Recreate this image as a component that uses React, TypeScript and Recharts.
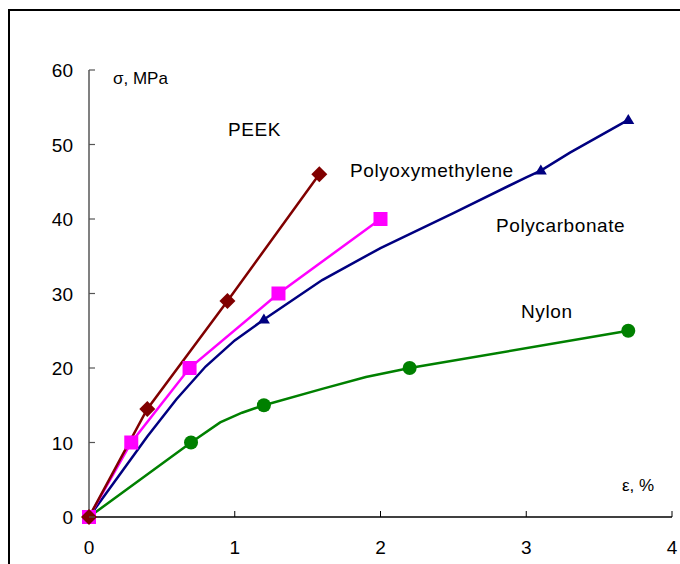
import React from "react";
import { LineChart, Line, XAxis, YAxis } from "recharts";

const FONT = "'Liberation Sans', Arial, sans-serif";

const PEEK_C = "#800000";
const POM_C = "#ff00ff";
const PC_C = "#000080";
const NYLON_C = "#008000";

// strain ε (%) against stress σ (MPa)
const peekStrain = [0, 0.4, 0.95, 1.58];
const peekStress = [0, 14.5, 29, 46];

const pomStrain = [0, 0.29, 0.69, 1.3, 2.0];
const pomStress = [0, 10, 20, 30, 40];

const pcStrain = [0, 0.2, 0.4, 0.6, 0.8, 1.0, 1.2, 1.6, 2.0, 2.5, 3.0, 3.1, 3.3, 3.7];
const pcStress = [0, 5.4, 10.8, 15.8, 20.2, 23.7, 26.5, 31.8, 36.1, 40.8, 45.6, 46.5, 48.9, 53.3];
// only these strains carry a triangle marker
const pcMarked = [0, 1.2, 3.1, 3.7];

const nylonStrain = [0, 0.7, 0.9, 1.05, 1.2, 1.6, 1.9, 2.2, 3.7];
const nylonStress = [0, 10, 12.7, 14, 15, 17.2, 18.8, 20, 25];
const nylonMarked = [0, 0.7, 1.2, 2.2, 3.7];

const xTicks = [0, 1, 2, 3, 4];
const yTicks = [0, 10, 20, 30, 40, 50, 60];

const toRows = (xs: number[], ys: number[]) => xs.map((x, i) => ({ x, y: ys[i] }));

const XTick = (props: any) => {
  const { x, y, payload } = props;
  return (
    <g>
      {payload.value !== 0 && <line x1={x} x2={x} y1={y} y2={y - 6} stroke="#000" strokeWidth={1} />}
      <text x={x} y={y + 37} textAnchor="middle" fontFamily={FONT} fontSize={19} fill="#000">
        {payload.value}
      </text>
    </g>
  );
};

const YTick = (props: any) => {
  const { x, y, payload } = props;
  return (
    <g>
      <line x1={x} x2={x + 6} y1={y} y2={y} stroke="#555" strokeWidth={1.2} />
      <text x={x - 16} y={y + 7} textAnchor="end" fontFamily={FONT} fontSize={19} fill="#000">
        {payload.value}
      </text>
    </g>
  );
};

const Diamond = (p: any) => {
  const { cx, cy } = p;
  const r = 8;
  return <polygon key={p.index} points={`${cx},${cy - r} ${cx + r},${cy} ${cx},${cy + r} ${cx - r},${cy}`} fill={PEEK_C} />;
};

const Square = (p: any) => <rect key={p.index} x={p.cx - 7} y={p.cy - 7} width={14} height={14} fill={POM_C} />;

const Circle = (p: any) => {
  if (!nylonMarked.includes(p.payload.x)) return <g key={p.index} />;
  return <circle key={p.index} cx={p.cx} cy={p.cy} r={7} fill={NYLON_C} />;
};

const Triangle = (p: any) => {
  const { cx, cy, payload } = p;
  if (!pcMarked.includes(payload.x)) return <g key={p.index} />;
  return <polygon key={p.index} points={`${cx},${cy - 6} ${cx + 6},${cy + 4} ${cx - 6},${cy + 4}`} fill={PC_C} />;
};

const labels = [
  { text: "PEEK", x: 228, y: 136 },
  { text: "Polyoxymethylene", x: 350, y: 177 },
  { text: "Polycarbonate", x: 496, y: 232 },
  { text: "Nylon", x: 521, y: 318 },
];

export default function App() {
  return (
    <div style={{ position: "absolute", left: 0, top: 0, width: 680, height: 564, overflow: "hidden", background: "#fff" }}>
      <div style={{ position: "absolute", left: 8, top: 9, width: 720, height: 620, border: "2px solid #000" }} />
      <LineChart width={680} height={564} margin={{ top: 70, right: 8, left: 29, bottom: 17 }}>
        <XAxis
          type="number"
          dataKey="x"
          domain={[0, 4]}
          ticks={xTicks}
          height={30}
          tickSize={0}
          tickMargin={0}
          tick={<XTick />}
          axisLine={{ stroke: "#000", strokeWidth: 1.5 }}
          tickLine={false}
          allowDuplicatedCategory={false}
        />
        <YAxis
          type="number"
          dataKey="y"
          domain={[0, 60]}
          ticks={yTicks}
          width={60}
          tickSize={0}
          tickMargin={0}
          tick={<YTick />}
          axisLine={{ stroke: "#808080", strokeWidth: 2 }}
          tickLine={false}
        />
        <Line data={toRows(nylonStrain, nylonStress)} dataKey="y" stroke={NYLON_C} strokeWidth={2.5} dot={Circle} isAnimationActive={false} />
        <Line data={toRows(pcStrain, pcStress)} dataKey="y" stroke={PC_C} strokeWidth={2.5} dot={Triangle} isAnimationActive={false} />
        <Line data={toRows(pomStrain, pomStress)} dataKey="y" stroke={POM_C} strokeWidth={2.5} dot={Square} isAnimationActive={false} />
        <Line data={toRows(peekStrain, peekStress)} dataKey="y" stroke={PEEK_C} strokeWidth={2.5} dot={Diamond} isAnimationActive={false} />
      </LineChart>
      <svg width={680} height={564} style={{ position: "absolute", left: 0, top: 0, pointerEvents: "none" }}>
        {labels.map((l) => (
          <text key={l.text} x={l.x} y={l.y} fontFamily={FONT} fontSize={19} letterSpacing={0.6} fill="#000">
            {l.text}
          </text>
        ))}
        <text x={113} y={84} fontFamily={FONT} fontSize={17} fill="#000">σ, MPa</text>
        <text x={622} y={491} fontFamily={FONT} fontSize={17} fill="#000">ε, %</text>
      </svg>
    </div>
  );
}
